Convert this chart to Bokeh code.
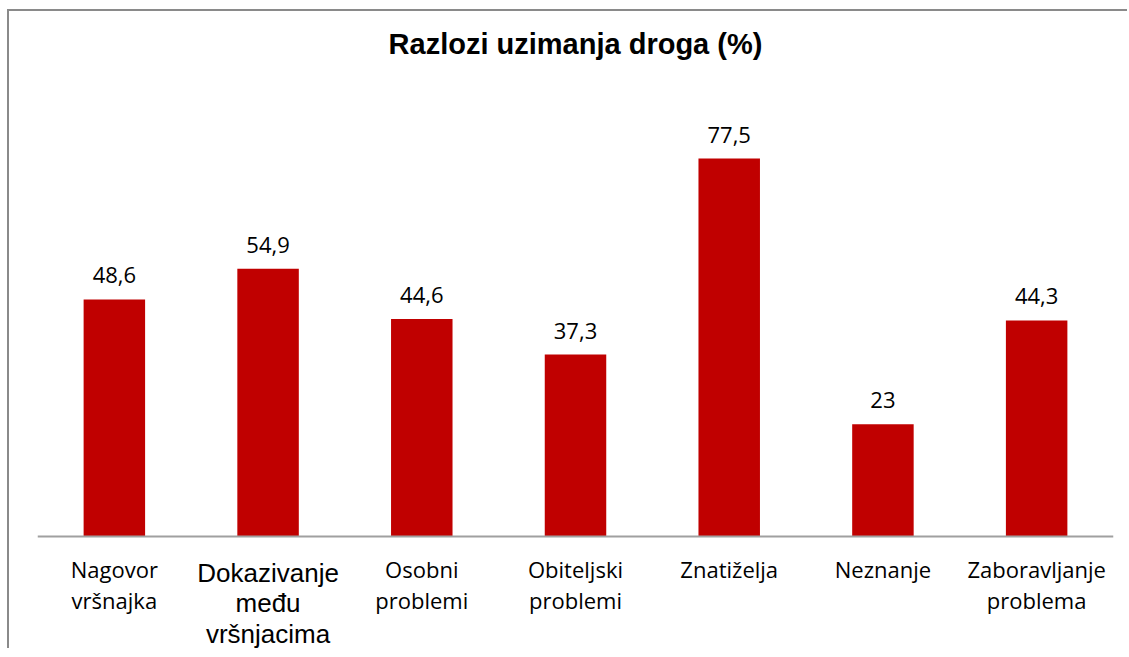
from bokeh.plotting import figure
from bokeh.models import ColumnDataSource, Range1d, FactorRange, Span, CDSView, IndexFilter
from bokeh.core.properties import value
from bokeh.embed import file_html
from bokeh.resources import INLINE

title_text = "Razlozi uzimanja droga (%)"
categories = ["Nagovor vršnajka", "Dokazivanje među vršnjacima", "Osobni problemi",
              "Obiteljski problemi", "Znatiželja", "Neznanje", "Zaboravljanje problema"]
category_labels = ["Nagovor\nvršnajka", "Dokazivanje\nmeđu\nvršnjacima", "Osobni\nproblemi",
                   "Obiteljski\nproblemi", "Znatiželja", "Neznanje", "Zaboravljanje\nproblema"]
values = [48.6, 54.9, 44.6, 37.3, 77.5, 23, 44.3]
value_labels = ["48,6", "54,9", "44,6", "37,3", "77,5", "23", "44,3"]

src = ColumnDataSource(dict(
    cat=categories, lab=category_labels, val=values, vlab=value_labels,
    base=[0] * len(values),
))

p = figure(x_range=FactorRange(factors=categories, range_padding=0),
           y_range=Range1d(-23.37, 97.4),
           width=1120, height=639,
           output_backend="svg", toolbar_location=None,
           min_border_left=28, min_border_right=16, min_border_top=50, min_border_bottom=0)
p.styles = {"box-shadow": "-2px -2px 0px 0px #8a8a8a",
            "margin-left": "9px", "margin-top": "11px"}
p.axis.visible = False
p.grid.visible = False
p.outline_line_color = None

p.title.text = title_text
p.title.text_font = "Liberation Sans"
p.title.text_font_style = "bold"
p.title.text_font_size = "29px"
p.title.text_color = "#000000"
p.title.align = "center"
p.title.vertical_align = "bottom"
p.title.standoff = 4

p.vbar(x="cat", top="val", width=0.4, bottom=0, fill_color="#C00000", line_color=None, source=src)

p.add_layout(Span(location=0, dimension="width", line_color="#a0a0a0", line_width=2))

p.text(x="cat", y="val", text="vlab", source=src, text_font=value("Open Sans"),
       text_font_size="22px", text_align="center", text_baseline="alphabetic",
       y_offset=-24, text_color="#000000")

open_sans_view = CDSView(filter=IndexFilter([0, 2, 3, 4, 5, 6]))
arial_view = CDSView(filter=IndexFilter([1]))
p.text(x="cat", y="base", text="lab", source=src, view=open_sans_view,
       text_font=value("Open Sans"), text_font_size="22px", text_align="center",
       text_baseline="top", y_offset=17, text_line_height=1.05, text_color="#000000")
p.text(x="cat", y="base", text="lab", source=src, view=arial_view,
       text_font=value("Liberation Sans"), text_font_size="26px", text_align="center",
       text_baseline="top", y_offset=21, text_line_height=1.02, text_color="#000000")

open("out.html", "w").write(file_html(p, INLINE))
